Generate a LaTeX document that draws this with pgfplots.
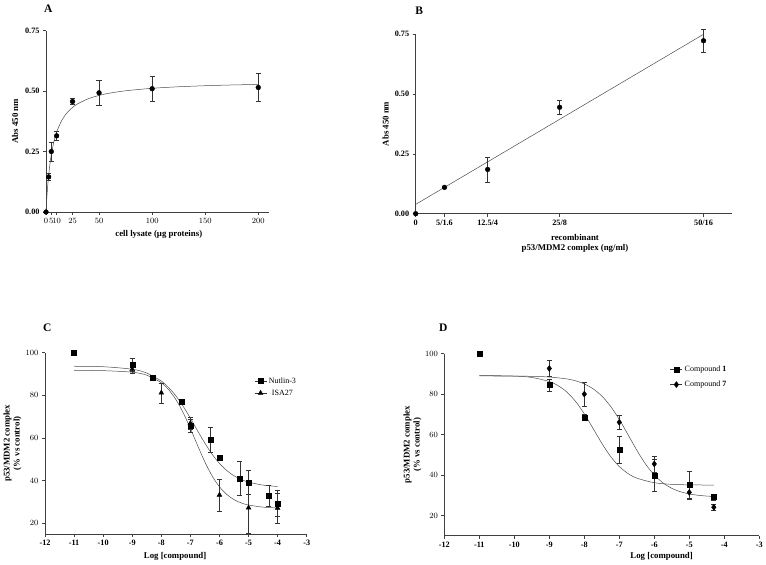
\documentclass[border=0pt]{standalone}
\usepackage{fontspec}
\setmainfont{Liberation Serif}
\usepackage{pgfplots}
\pgfplotsset{compat=1.18}

\pgfplotsset{
  panel/.style={scale only axis, axis x line*=bottom, axis y line*=left,
    axis line style={-, line width=0.7pt, black!75},
    tick align=outside, major tick length=3pt,
    tick style={black!75, line width=0.6pt},
    ticklabel style={font=\bfseries\fontsize{8.2}{9}\selectfont},
    label style={font=\bfseries\fontsize{8.8}{10}\selectfont, align=center},
    clip=false},
  dat/.style={only marks, black,
    error bars/y dir=both, error bars/y explicit,
    error bars/error bar style={black!80, line width=0.5pt},
    error bars/error mark options={rotate=90, mark size=2.6pt, line width=0.5pt}},
  fit/.style={no marks, smooth, black!70, line width=0.5pt},
  leg/.style={legend style={draw=none, fill=none, font=\fontsize{8}{9}\selectfont,
    inner sep=1pt},
    legend image code/.code={\draw[black!80, line width=0.6pt] (0pt,0pt)--(12pt,0pt);
      \draw[##1] plot coordinates {(6pt,0pt)};}},
}

\begin{document}
\begin{tikzpicture}
\path[use as bounding box] (0,0) rectangle (766pt,565pt);
\node[font=\bfseries\fontsize{11.5}{12}\selectfont] at (48.3pt,556pt) {A};
\node[font=\bfseries\fontsize{11.5}{12}\selectfont] at (419.3pt,554.3pt) {B};
\node[font=\bfseries\fontsize{11.5}{12}\selectfont] at (47.3pt,237.7pt) {C};
\node[font=\bfseries\fontsize{11.5}{12}\selectfont] at (443.3pt,237.7pt) {D};

% A
\begin{axis}[panel, at={(46pt,353pt)}, anchor=south west,
  width=222.9pt, height=181.3pt,
  xmin=0, xmax=210, ymin=0, ymax=0.75,
  xtick={0,5,10,25,50,100,150,200},
  ytick={0,0.25,0.5,0.75}, yticklabels={0.00,0.25,0.50,0.75},
  xlabel={cell lysate (µg proteins)}, ylabel={Abs 450 nm},
  xlabel style={at={(axis description cs:0.506,-0.123)}, anchor=center},
  ylabel style={at={(axis description cs:-0.139,0.5)}, anchor=center}]
\addplot[fit] coordinates {(0,0) (1,0.0727) (2,0.1282) (3,0.1721) (4,0.2076)
  (5,0.2370) (7.5,0.2920) (10,0.3303) (15,0.3802) (20,0.4113) (25,0.4325)
  (30,0.4479) (40,0.4688) (50,0.4823) (60,0.4917) (75,0.5015) (100,0.5117)
  (125,0.5181) (150,0.5224) (175,0.5255) (200,0.5278)};
\addplot[dat, mark=*, mark size=2.4pt] coordinates {
  (0,0) (2.5,0.145) +- (0,0.015) (5,0.25) +- (0,0.04) (10,0.315) +- (0,0.02)
  (25,0.457) +- (0,0.012) (50,0.493) +- (0,0.052) (100,0.51) +- (0,0.052)
  (200,0.515) +- (0,0.057)};
\end{axis}

% B
\begin{axis}[panel, at={(415.7pt,351.3pt)}, anchor=south west,
  width=316.6pt, height=179.4pt,
  xmin=0, xmax=55, ymin=0, ymax=0.75,
  xtick={0,5,12.5,25,50}, xticklabels={0,5/1.6,12.5/4,25/8,50/16},
  ytick={0,0.25,0.5,0.75}, yticklabels={0.00,0.25,0.50,0.75},
  xlabel={recombinant\\p53/MDM2 complex (ng/ml)}, ylabel={Abs 450 nm},
  xlabel style={at={(axis description cs:0.503,-0.163)}, anchor=center},
  ylabel style={at={(axis description cs:-0.0948,0.5)}, anchor=center}]
\addplot[black!70, line width=0.5pt] coordinates {(0,0.039) (50,0.75)};
\addplot[dat, mark=*, mark size=2.4pt] coordinates {
  (0,0) (5,0.11) (12.5,0.185) +- (0,0.053) (25,0.445) +- (0,0.03)
  (50,0.723) +- (0,0.05)};
\end{axis}

% C
\begin{axis}[panel, leg, at={(45pt,31pt)}, anchor=south west,
  width=261.7pt, height=181.3pt,
  xmin=-12, xmax=-3, ymin=15, ymax=100,
  xtick={-12,...,-3}, xticklabels={-12,-11,-10,-9,-8,-7,-6,-5,-4,-3},
  ytick={20,40,...,100},
  xlabel={Log [compound]}, ylabel={p53/MDM2 complex\\(\% vs control)},
  xlabel style={at={(axis description cs:0.497,-0.121)}, anchor=center},
  ylabel style={at={(axis description cs:-0.124,0.5)}, anchor=center},
  legend style={at={(axis description cs:0.795,0.88)}, anchor=north west,
    row sep=1pt}]
\addplot[fit, forget plot] coordinates {(-11,93.65) (-10,93.43) (-9,92.25)
  (-8.5,90.46) (-8,86.71) (-7.75,83.71) (-7.5,79.77) (-7.25,74.91) (-7,69.29)
  (-6.75,63.34) (-6.5,57.55) (-6.25,52.38) (-6,48.10) (-5.75,44.77)
  (-5.5,42.30) (-5.25,40.54) (-5,39.31) (-4.5,37.91) (-4,37.28)};
\addplot[fit, forget plot] coordinates {(-11,91.68) (-10,91.58) (-9,90.86)
  (-8.5,89.45) (-8,85.92) (-7.75,82.70) (-7.5,78.08) (-7.25,71.94) (-7,64.48)
  (-6.75,56.44) (-6.5,48.74) (-6.25,42.18) (-6,37.14) (-5.75,33.55)
  (-5.5,31.13) (-5.25,29.57) (-5,28.58) (-4.5,27.59) (-4,27.22)};
\addplot[dat, mark=square*, mark size=2.5pt] coordinates {
  (-11,100) (-9,94.5) +- (0,3) (-8.3,88.3) (-7.3,76.9) (-7,65.8) +- (0,3)
  (-6.3,59.2) +- (0,5.8) (-6,50.6) (-5.3,41.1) +- (0,7.8) (-5,39.2) +- (0,5.5)
  (-4.3,33) +- (0,5) (-4,29.4) +- (0,6)};
\addlegendentry{Nutlin-3}
\addplot[dat, mark=triangle*, mark size=2.8pt] coordinates {
  (-9,92.2) +- (0,2) (-8,81.2) +- (0,4.7) (-7,66.9) +- (0,3)
  (-6,33.3) +- (0,7.4) (-5,27.3) +- (0,12) (-4,27.2) +- (0,7)};
\addlegendentry{ISA27}
\end{axis}

% D
\begin{axis}[panel, leg, at={(444.3pt,29.3pt)}, anchor=south west,
  width=315pt, height=182pt,
  xmin=-12, xmax=-3, ymin=10, ymax=100,
  xtick={-12,...,-3}, xticklabels={-12,-11,-10,-9,-8,-7,-6,-5,-4,-3},
  ytick={20,40,...,100},
  xlabel={Log [compound]}, ylabel={p53/MDM2 complex\\(\% vs control)},
  xlabel style={at={(axis description cs:0.69,-0.115)}, anchor=center},
  ylabel style={at={(axis description cs:-0.101,0.5)}, anchor=center},
  legend style={at={(axis description cs:0.713,0.95)}, anchor=north west,
    row sep=4pt}]
\addplot[fit, forget plot] coordinates {(-11,89.26) (-10,88.95) (-9.5,88.25)
  (-9,86.25) (-8.75,84.22) (-8.5,81.05) (-8.25,76.42) (-8,70.27) (-7.75,63.05)
  (-7.5,55.70) (-7.25,49.22) (-7,44.22) (-6.75,40.73) (-6.5,38.46) (-6,36.20)
  (-5.5,35.40) (-5,35.14) (-4.3,35.03)};
\addplot[fit, forget plot] coordinates {(-11,89.0) (-10,88.93) (-9.5,88.81)
  (-9,88.47) (-8.5,87.54) (-8.25,86.58) (-8,85.05) (-7.75,82.65) (-7.5,79.06)
  (-7.25,74.0) (-7,67.47) (-6.75,59.93) (-6.5,52.27) (-6.25,45.44) (-6,40.02)
  (-5.75,36.09) (-5.5,33.43) (-5.25,31.72) (-5,30.65) (-4.75,30.0) (-4.5,29.6)
  (-4.3,29.4)};
\addplot[dat, mark=square*, mark size=2.5pt] coordinates {
  (-11,100) (-9,84.5) +- (0,3) (-8,68.4) +- (0,1.5) (-7,52.6) +- (0,6.6)
  (-6,39.8) +- (0,8) (-5,35) +- (0,7) (-4.3,29.1) +- (0,1.5)};
\addlegendentry{Compound \textbf{1}}
\addplot[dat, mark=diamond*, mark size=3pt] coordinates {
  (-9,92.7) +- (0,4) (-8,80) +- (0,6) (-7,66.1) +- (0,3.5)
  (-6,45.5) +- (0,4) (-5,31.4) +- (0,3) (-4.3,24.1) +- (0,1.5)};
\addlegendentry{Compound \textbf{7}}
\end{axis}
\end{tikzpicture}
\end{document}
